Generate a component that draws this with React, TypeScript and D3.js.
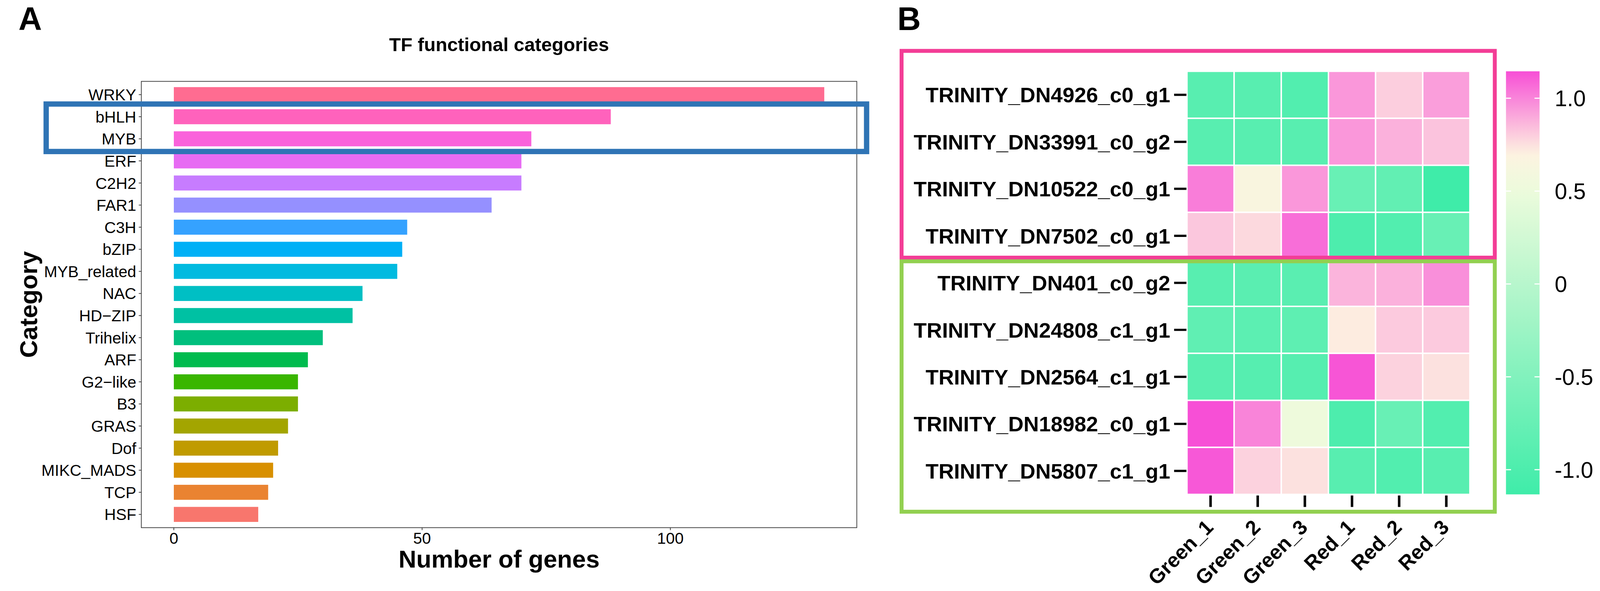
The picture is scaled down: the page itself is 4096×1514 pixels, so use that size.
import React from "react"
import * as d3 from "d3"

// ---- panel A data ----
const categories = [
  "WRKY", "bHLH", "MYB", "ERF", "C2H2", "FAR1", "C3H", "bZIP", "MYB_related", "NAC",
  "HD-ZIP", "Trihelix", "ARF", "G2-like", "B3", "GRAS", "Dof", "MIKC_MADS", "TCP", "HSF",
]
const geneCounts = [131, 88, 72, 70, 70, 64, 47, 46, 45, 38, 36, 30, 27, 25, 25, 23, 21, 20, 19, 17]
const barColors = [
  "#FF6C91", "#FF62BC", "#FA62DB", "#E76BF3", "#C77CFF", "#9590FF", "#35A2FF", "#00B0F6", "#00BAE0", "#00BFC4",
  "#00C1A3", "#00BF7D", "#00BB4E", "#39B600", "#7CAE00", "#A3A500", "#C09B00", "#D89000", "#EA8331", "#F8766D",
]
const xTicks = [0, 50, 100]
const boxedCategories = ["bHLH", "MYB"]

// ---- panel B data ----
const genes = [
  "TRINITY_DN4926_c0_g1",
  "TRINITY_DN33991_c0_g2",
  "TRINITY_DN10522_c0_g1",
  "TRINITY_DN7502_c0_g1",
  "TRINITY_DN401_c0_g2",
  "TRINITY_DN24808_c1_g1",
  "TRINITY_DN2564_c1_g1",
  "TRINITY_DN18982_c0_g1",
  "TRINITY_DN5807_c1_g1",
]
const samples = ["Green_1", "Green_2", "Green_3", "Red_1", "Red_2", "Red_3"]
const expression = [
  [-0.9, -0.9, -0.95, 0.95, 0.8, 0.93],
  [-0.9, -0.9, -0.9, 0.95, 0.88, 0.83],
  [1.02, 0.65, 0.95, -0.75, -0.8, -1.133],
  [0.82, 0.77, 1.06, -1.0, -0.95, -0.75],
  [-0.9, -0.88, -0.88, 0.87, 0.88, 0.97],
  [-0.82, -0.86, -0.84, 0.72, 0.81, 0.81],
  [-0.9, -0.92, -0.92, 1.13, 0.79, 0.75],
  [1.145, 1.0, 0.52, -1.0, -0.75, -0.95],
  [1.12, 0.79, 0.75, -0.9, -0.95, -0.9],
]
const legendTicks = [1, 0.5, 0, -0.5, -1]
const legendLabels = ["1.0", "0.5", "0", "-0.5", "-1.0"]
const upGroup = genes.slice(0, 4)
const downGroup = genes.slice(4)

const REF_W = 5718
const WIDTH = 4096
const HEIGHT = 1514
const k = WIDTH / REF_W
const FONT = "'Liberation Sans', Arial, Helvetica, sans-serif"

export default function App() {
  // panel A scales (reference pixel space)
  const maxCount = d3.max(geneCounts) as number
  const pad = maxCount * 0.05
  const x = d3.scaleLinear().domain([-pad, maxCount + pad]).range([505, 3062])
  const y = d3
    .scaleBand<string>()
    .domain(categories)
    .range([291, 1887])
    .paddingInner(0.32)
    .paddingOuter(0.26)
  const step = y.step()

  // blue box around the highlighted categories
  const boxTop = (y(boxedCategories[0]) as number) - step * 0.26 + 2
  const boxBottom = (y(boxedCategories[boxedCategories.length - 1]) as number) + y.bandwidth() + step * 0.26 - 2

  // panel B scales
  const flat = expression.flat()
  const vMin = d3.min(flat) as number
  const vMax = d3.max(flat) as number
  const hx = d3.scaleBand<string>().domain(samples).range([4242, 5253])
  const hy = d3.scaleBand<string>().domain(genes).range([255, 1768])
  const color = d3
    .scaleLinear<string>()
    .domain([vMin, 0.5, 0.7, vMax])
    .range(["#3FECA9", "#ECFBDC", "#FDF3E0", "#F74FD6"])
    .interpolate(d3.interpolateRgb)
  const ly = d3.scaleLinear().domain([vMin, vMax]).range([1768, 255])
  const gradStops = d3.range(0, 41).map((i) => vMin + ((vMax - vMin) * i) / 40)

  const upBottom = (hy(upGroup[upGroup.length - 1]) as number) + hy.bandwidth()
  const downTop = hy(downGroup[0]) as number

  return (
    <svg
      width={WIDTH}
      height={HEIGHT}
      style={{ position: "absolute", left: 0, top: 0, background: "#fff" }}
      fontFamily={FONT}
    >
      <defs>
        <linearGradient id="legendGrad" x1="0" y1="1" x2="0" y2="0">
          {gradStops.map((v, i) => (
            <stop key={i} offset={`${(i / 40) * 100}%`} stopColor={color(v)} />
          ))}
        </linearGradient>
      </defs>
      <rect width={WIDTH} height={HEIGHT} fill="#fff" />
      <g transform={`scale(${k})`}>
        {/* ================= Panel A ================= */}
        <text x={66} y={107} fontSize={116} fontWeight="bold">A</text>
        <text x={(505 + 3062) / 2} y={183} fontSize={68} fontWeight="bold" textAnchor="middle">
          TF functional categories
        </text>

        {/* panel border */}
        <rect x={505} y={291} width={3062 - 505} height={1887 - 291} fill="none" stroke="#333" strokeWidth={2.5} />

        {/* bars */}
        {categories.map((c, i) => (
          <rect
            key={c}
            x={x(0)}
            y={y(c)}
            width={x(geneCounts[i]) - x(0)}
            height={y.bandwidth()}
            fill={barColors[i]}
          />
        ))}

        {/* y axis ticks + labels */}
        {categories.map((c) => {
          const cy = (y(c) as number) + y.bandwidth() / 2
          return (
            <g key={c}>
              <line x1={496} x2={505} y1={cy} y2={cy} stroke="#333" strokeWidth={2.5} />
              <text x={487} y={cy} dy="0.36em" fontSize={57} textAnchor="end" fill="#000">
                {c.replace("-", "\u2212")}
              </text>
            </g>
          )
        })}

        {/* x axis ticks + labels */}
        {xTicks.map((t) => (
          <g key={t}>
            <line x1={x(t)} x2={x(t)} y1={1887} y2={1896} stroke="#333" strokeWidth={2.5} />
            <text x={x(t)} y={1944} fontSize={57} textAnchor="middle" fill="#000">{t}</text>
          </g>
        ))}

        <text x={(505 + 3062) / 2} y={2030} fontSize={88} fontWeight="bold" textAnchor="middle">
          Number of genes
        </text>
        <text
          transform={`translate(132, ${(291 + 1887) / 2}) rotate(-90)`}
          fontSize={88}
          fontWeight="bold"
          textAnchor="middle"
        >
          Category
        </text>

        {/* highlight box */}
        <rect x={165} y={boxTop} width={3097 - 165} height={boxBottom - boxTop} fill="none" stroke="#2F74B5" strokeWidth={19} />

        {/* ================= Panel B ================= */}
        <text x={3207} y={107} fontSize={116} fontWeight="bold">B</text>

        {/* cells */}
        {genes.map((g, r) =>
          samples.map((s, c) => (
            <rect
              key={`${g}-${s}`}
              x={hx(s)}
              y={hy(g)}
              width={hx.bandwidth()}
              height={hy.bandwidth()}
              fill={color(expression[r][c])}
              stroke="#fff"
              strokeWidth={5}
            />
          ))
        )}

        {/* row labels */}
        {genes.map((g) => {
          const cy = (hy(g) as number) + hy.bandwidth() / 2
          return (
            <g key={g}>
              <line x1={4196} x2={4240} y1={cy} y2={cy} stroke="#000" strokeWidth={8} />
              <text x={4182} y={cy} dy="0.36em" fontSize={76} fontWeight="bold" textAnchor="end">
                {g}
              </text>
            </g>
          )
        })}

        {/* column ticks + labels */}
        {samples.map((s) => {
          const cx = (hx(s) as number) + hx.bandwidth() / 2
          return (
            <g key={s}>
              <line x1={cx} x2={cx} y1={1772} y2={1813} stroke="#000" strokeWidth={9} />
              <text
                transform={`translate(${cx + 14}, 1890) rotate(-45)`}
                fontSize={73}
                fontWeight="bold"
                textAnchor="end"
              >
                {s}
              </text>
            </g>
          )
        })}

        {/* group boxes */}
        <rect x={3222} y={182} width={5342 - 3222} height={upBottom - 182 - 6} fill="none" stroke="#F33D96" strokeWidth={14} />
        <rect x={3222} y={downTop + 7} width={5342 - 3222} height={1830 - downTop - 7} fill="none" stroke="#92D050" strokeWidth={14} />

        {/* colour legend */}
        <rect x={5382} y={255} width={120} height={1768 - 255} fill="url(#legendGrad)" />
        {legendTicks.map((t, i) => (
          <g key={t}>
            <line x1={5382} x2={5400} y1={ly(t)} y2={ly(t)} stroke="#fff" strokeWidth={4} />
            <line x1={5484} x2={5502} y1={ly(t)} y2={ly(t)} stroke="#fff" strokeWidth={4} />
            <text x={5556} y={ly(t)} dy="0.36em" fontSize={80} fill="#000">{legendLabels[i]}</text>
          </g>
        ))}
      </g>
    </svg>
  )
}
